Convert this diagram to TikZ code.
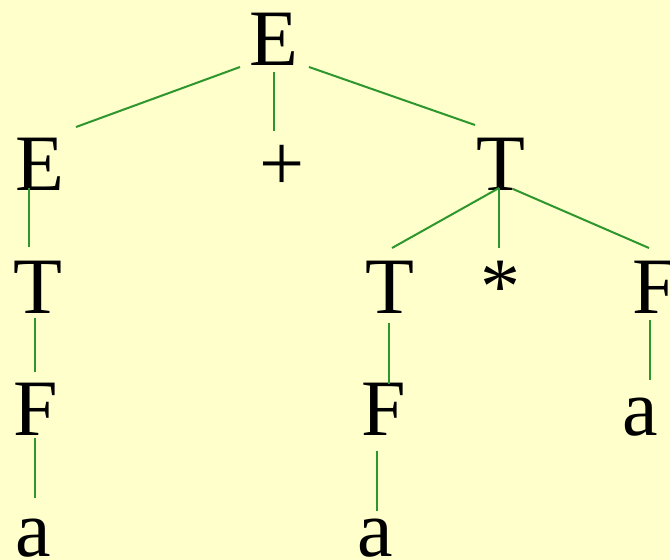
\documentclass[tikz,border=0pt]{standalone}
\usepackage{fontspec}
\setmainfont{Liberation Serif}
\definecolor{bgyellow}{RGB}{255,255,204}
\definecolor{edgegreen}{RGB}{45,150,45}
\begin{document}
\begin{tikzpicture}[x=1pt,y=-1pt,
  sym/.style={inner sep=0pt,outer sep=0pt,anchor=base,font=\fontsize{80}{96}\selectfont},
  edge/.style={draw=edgegreen,line width=2pt}]
\fill[bgyellow] (0,0) rectangle (670,560);
\useasboundingbox (0,0) rectangle (670,560);
% nodes
\node[sym] (E0) at (274,65) {E};
\node[sym] (E1) at (40,190) {E};
\node[sym] (plus) at (282,190) {+};
\node[sym] (T1) at (501,190) {T};
\node[sym] (T2) at (38,313) {T};
\node[sym] (T3) at (390,313) {T};
\node[sym] (star) at (500,313) {*};
\node[sym] (F1) at (655,313) {F};
\node[sym] (F2) at (36,435) {F};
\node[sym] (F3) at (384,435) {F};
\node[sym] (a1) at (640,435) {a};
\node[sym] (a2) at (33,556) {a};
\node[sym] (a3) at (375,556) {a};
% connector ends
\coordinate (E0l) at (240,67);  \coordinate (E1t) at (76,127);
\coordinate (E0m) at (274,72);  \coordinate (plust) at (274,131);
\coordinate (E0r) at (309,67);  \coordinate (T1t) at (475,125);
\coordinate (E1b) at (29,188);  \coordinate (T2t) at (29,247);
\coordinate (T2b) at (35,318);  \coordinate (F2t) at (35,372);
\coordinate (F2b) at (35,438);  \coordinate (a2t) at (35,498);
\coordinate (T1l) at (499,188); \coordinate (T3t) at (392,248);
\coordinate (T1m) at (499,188); \coordinate (start) at (499,248);
\coordinate (T1r) at (513,189); \coordinate (F1t) at (649,248);
\coordinate (T3b) at (389,323); \coordinate (F3t) at (389,384);
\coordinate (F3b) at (377,451); \coordinate (a3t) at (377,511);
\coordinate (F1b) at (650,320); \coordinate (a1t) at (650,380);
% connectors
\draw[edge] (E0l) -- (E1t);
\draw[edge] (E0m) -- (plust);
\draw[edge] (E0r) -- (T1t);
\draw[edge] (E1b) -- (T2t);
\draw[edge] (T2b) -- (F2t);
\draw[edge] (F2b) -- (a2t);
\draw[edge] (T1l) -- (T3t);
\draw[edge] (T1m) -- (start);
\draw[edge] (T1r) -- (F1t);
\draw[edge] (T3b) -- (F3t);
\draw[edge] (F3b) -- (a3t);
\draw[edge] (F1b) -- (a1t);
\end{tikzpicture}
\end{document}
